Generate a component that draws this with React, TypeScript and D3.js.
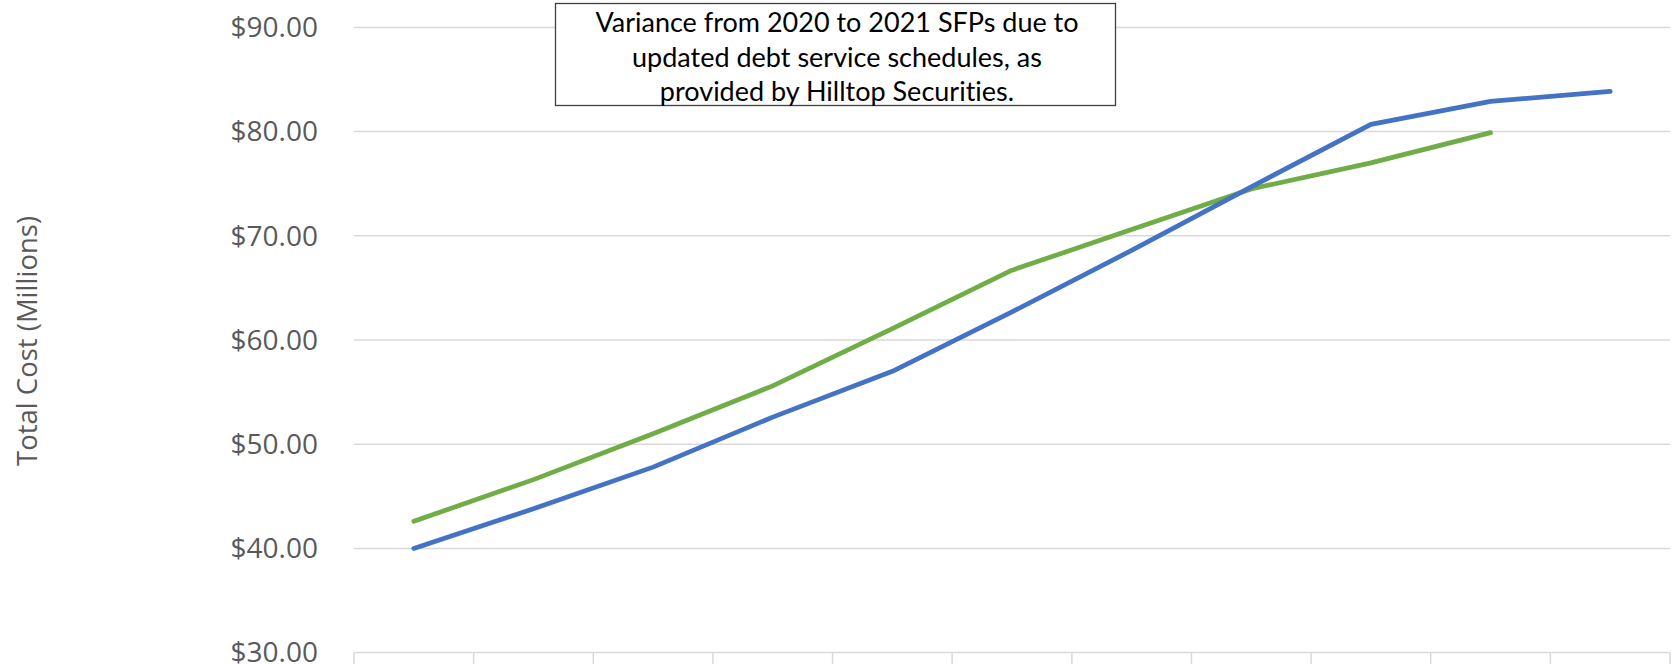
import React from "react";
import * as d3 from "d3";

const categories = ["2021", "2022", "2023", "2024", "2025", "2026", "2027", "2028", "2029", "2030", "2031"];
const sfp2021 = [40.0, 43.8, 47.8, 52.6, 57.0, 62.7, 68.6, 74.7, 80.7, 82.9, 83.85];
const sfp2020 = [42.6, 46.6, 51.0, 55.6, 61.1, 66.7, 70.6, 74.5, 77.0, 79.9];
const yTicks = [30, 40, 50, 60, 70, 80, 90];
const yTitle = "Total Cost (Millions)";
const noteLines = [
  "Variance from 2020 to 2021 SFPs due to",
  "updated debt service schedules, as",
  "provided by Hilltop Securities.",
];

const W = 1675;
const H = 664;
const M = { left: 354, right: 1670, top: 27.4, bottom: 652.6 };

export default function App() {
  const x = d3.scaleBand<string>().domain(categories).range([M.left, M.right]).padding(0);
  const y = d3.scaleLinear().domain([30, 90]).range([M.bottom, M.top]);
  const cx = (i: number) => (x(categories[i]) as number) + x.bandwidth() / 2;
  const line = d3
    .line<number>()
    .x((_, i) => cx(i))
    .y((d) => y(d));
  const fmt = (v: number) => "$" + d3.format(".2f")(v);
  const boundaries = categories.map((c) => x(c) as number).concat([M.right]);

  return (
    <svg
      width={W}
      height={H}
      style={{ position: "absolute", left: 0, top: 0, background: "#fff" }}
    >
      {yTicks.map((t) => (
        <line
          key={"g" + t}
          x1={M.left}
          x2={M.right}
          y1={y(t)}
          y2={y(t)}
          stroke="#D9D9D9"
          strokeWidth={1.5}
        />
      ))}
      {boundaries.map((b, i) => (
        <line key={"t" + i} x1={b} x2={b} y1={M.bottom} y2={M.bottom + 14} stroke="#D9D9D9" strokeWidth={1.5} />
      ))}
      {yTicks.map((t) => (
        <text
          key={"l" + t}
          x={318}
          y={y(t)}
          dy="0.35em"
          textAnchor="end"
          fontFamily="Open Sans"
          fontSize={28}
          fill="#595959"
        >
          {fmt(t)}
        </text>
      ))}
      <text
        transform={`translate(27.5,341) rotate(-90)`}
        textAnchor="middle"
        dy="0.35em"
        fontFamily="Open Sans"
        fontSize={27.5}
        fill="#595959"
      >
        {yTitle}
      </text>
      <path d={line(sfp2020) || ""} fill="none" stroke="#70AD47" strokeWidth={4.75} strokeLinecap="round" strokeLinejoin="round" />
      <path d={line(sfp2021) || ""} fill="none" stroke="#4472C4" strokeWidth={4.75} strokeLinecap="round" strokeLinejoin="round" />
      <rect x={555.5} y={3.5} width={560} height={102} fill="#fff" stroke="#404040" strokeWidth={1.3} />
      {noteLines.map((s, i) => (
        <text
          key={"n" + i}
          x={837}
          y={32 + i * 34.5}
          textAnchor="middle"
          fontFamily="Lato"
          fontSize={27}
          fill="#000"
          style={{ fontVariantLigatures: "none", fontFeatureSettings: '"liga" 0, "clig" 0' }}
        >
          {s}
        </text>
      ))}
    </svg>
  );
}
